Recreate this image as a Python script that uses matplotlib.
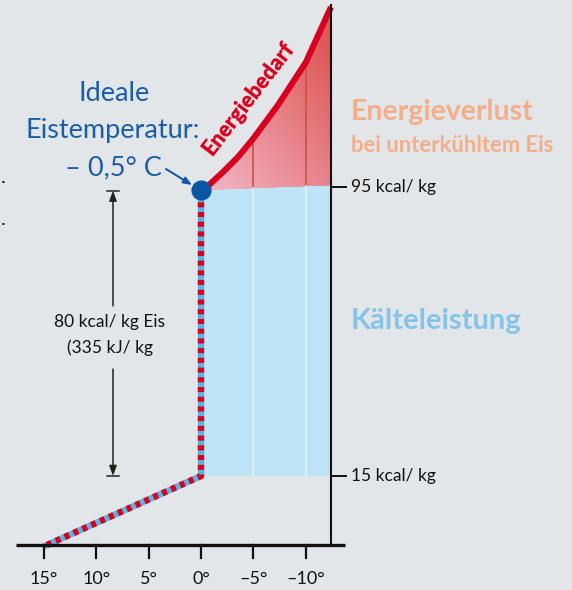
import numpy as np
import matplotlib
matplotlib.use("Agg")
import matplotlib.pyplot as plt
from matplotlib.patches import Polygon

# ---------------- data ----------------
temp_ticks = [15, 10, 5, 0, -5, -10]
temp_labels = ["15°", "10°", "5°", "0°", "–5°", "–10°"]
energy_ticks = [95, 15]
energy_labels = ["95 kcal/ kg", "15 kcal/ kg"]

# Energiebedarf curve (temperature °C, kcal/kg)
curve_t = [0, -0.67, -2.10, -3.53, -4.96, -7.35, -10.02, -12.4]
curve_k = [94.2, 95.3, 99.15, 103.3, 108.3, 117.7, 129.6, 144.8]

# lower boundary of the loss area / top of cooling area
base_t = [0, -12.4]
base_k = [94.2, 95.55]

# cooling path: water 15° -> 0°, freezing at 0°
path_t = [14.7, 0, 0]
path_k = [0, 15, 93]

ideal_t, ideal_k = 0, 94.2
latent_top, latent_bottom = 94.0, 15

# ---------------- scales ----------------
PX_PER_DEG = 10.48
X0 = 201.0
W, H = 572, 590


def fwd(k):
    k = np.asarray(k, float)
    return np.where(k <= 15, k * 4.6, 69 + (k - 15) * 3.6125)


def inv(v):
    v = np.asarray(v, float)
    return np.where(v <= 69, v / 4.6, 15 + (v - 69) / 3.6125)


def fp(x, y):
    return (x / W, 1 - y / H)


BG = "#e2e6e9"
RED = "#d7001e"
BLUE_LINE = "#5db3e0"
DARK_BLUE = "#0b57a4"
TXT_BLUE = "#1a5ea6"
FILL_BLUE = "#bfe4f6"

plt.rcParams["font.family"] = ["Lato", "DejaVu Sans"]

fig = plt.figure(figsize=(W / 100, H / 100), dpi=100)
fig.patch.set_facecolor(BG)
ax = fig.add_axes([0, 0, 1, 1])
ax.set_facecolor(BG)
ax.set_yscale("function", functions=(fwd, inv))
ax.set_xlim(X0 / PX_PER_DEG, (X0 - W) / PX_PER_DEG)
ax.set_ylim(float(inv(-45)), float(inv(545)))
ax.axis("off")

t_axis = -12.4

# cooling area (blue)
blue = Polygon([(base_t[0], base_k[0]), (base_t[1], base_k[1]),
                (base_t[1], 15), (base_t[0], 15)], closed=True,
               facecolor=FILL_BLUE, edgecolor="none", zorder=1)
ax.add_patch(blue)

# loss area (red gradient)
verts = list(zip(curve_t, curve_k)) + [(base_t[1], base_k[1]), (base_t[0], base_k[0])]
red_poly = Polygon(verts, closed=True, facecolor="none", edgecolor="none", zorder=1)
ax.add_patch(red_poly)
gt = np.linspace(0.5, -13, 100)
gk = np.linspace(90, 148, 100)
TT, KK = np.meshgrid(gt, gk)
tc = 0.5 * (TT[:-1, :-1] + TT[1:, 1:])
kc = 0.5 * (KK[:-1, :-1] + KK[1:, 1:])
f = np.clip(0.55 * (-tc / 12.4) + 0.6 * ((kc - 94) / 50), 0, 1)
c0 = np.array([243, 186, 202]) / 255
c1 = np.array([222, 90, 90]) / 255
cols = c0[None, None, :] * (1 - f[..., None]) + c1[None, None, :] * f[..., None]
mesh = ax.pcolormesh(TT, KK, f, shading="flat", zorder=1.2)
mesh.set_array(None)
mesh.set_facecolor(cols.reshape(-1, 3))
mesh.set_edgecolor("face")
mesh.set_clip_path(red_poly)

# grid lines at -5 and -10
for t in [-5, -10]:
    kb = np.interp(-t, [-x for x in base_t], base_k)
    kt = np.interp(-t, [-x for x in curve_t], curve_k)
    ax.plot([t, t], [kb, kt], color="#c4553f", lw=1.2, zorder=2)
    ax.plot([t, t], [15, kb], color="#e4f2f9", lw=1.2, zorder=2)

# Energiebedarf curve
ax.plot(curve_t, curve_k, color=RED, lw=4.4, solid_capstyle="butt",
        solid_joinstyle="round", zorder=4)

# cooling path (red/blue dashed)
lw = 4.6
ax.plot(path_t, path_k, color=BLUE_LINE, lw=lw, solid_joinstyle="miter", zorder=3)
ax.plot(path_t, path_k, color=RED, lw=lw, linestyle=(0, (3.6 / lw, 3.4 / lw)),
        dash_capstyle="butt", zorder=3.1)

# ideal point
ax.plot([ideal_t], [ideal_k], "o", color=DARK_BLUE, ms=13.5, zorder=5)

# axes
ax.plot([17.65, -13.7], [0, 0], color="#111", lw=2.4, solid_capstyle="butt", zorder=6)
ax.plot([t_axis, t_axis], [0, 145.5], color="#111", lw=1.5, zorder=6)
for t, lab in zip(temp_ticks, temp_labels):
    ax.plot([t, t], [0, -2.9], color="#111", lw=1.6, zorder=6)
    ax.text(t, -7.3, lab, ha="center", va="center", fontsize=13, color="#111")
for k, lab in zip(energy_ticks, energy_labels):
    ax.plot([t_axis, t_axis - 1.45], [k, k], color="#111", lw=1.4, zorder=6)
    ax.text(t_axis - 1.9, k, lab, ha="left", va="center", fontsize=12.5, color="#111")

# latent heat dimension arrow
xd = (X0 - 113) / PX_PER_DEG
gap_top, gap_bot = 62.1, 44.6
for kk in [latent_top, latent_bottom]:
    ax.plot([xd + 0.57, xd - 0.57], [kk, kk], color="#222", lw=1.1, zorder=6)
ax.annotate("", xy=(xd, latent_top), xytext=(xd, gap_top),
            arrowprops=dict(arrowstyle="-|>,head_length=0.6,head_width=0.22",
                            color="#222", lw=1.1, shrinkA=0, shrinkB=0))
ax.annotate("", xy=(xd, latent_bottom), xytext=(xd, gap_bot),
            arrowprops=dict(arrowstyle="-|>,head_length=0.6,head_width=0.22",
                            color="#222", lw=1.1, shrinkA=0, shrinkB=0))
fig.text(*fp(110, 322), "80 kcal/ kg Eis", ha="center", va="center", fontsize=12.5, color="#111")
fig.text(*fp(110, 348), "(335 kJ/ kg", ha="center", va="center", fontsize=12.5, color="#111")

# labels
fig.text(*fp(114, 94), "Ideale", ha="center", va="center", fontsize=19.5, color=TXT_BLUE)
fig.text(*fp(113, 131), "Eistemperatur:", ha="center", va="center", fontsize=19.5, color=TXT_BLUE)
fig.text(*fp(113, 168), "– 0,5° C", ha="center", va="center", fontsize=19.5, color=TXT_BLUE)
ax.annotate("", xy=(float((X0 - 192) / PX_PER_DEG), float(inv(545 - 185))),
            xytext=(float((X0 - 166) / PX_PER_DEG), float(inv(545 - 169))),
            arrowprops=dict(arrowstyle="-|>,head_length=0.5,head_width=0.2",
                            color=DARK_BLUE, lw=1.4, shrinkA=0, shrinkB=0), zorder=6)

fig.text(*fp(249, 98), "Energiebedarf", ha="center", va="center", rotation=52.5,
         fontsize=15.5, fontweight="heavy", color=RED, rotation_mode="anchor")
fig.text(*fp(351, 112), "Energieverlust", ha="left", va="center", fontsize=20.5,
         fontweight="bold", color="#f4ae8a")
fig.text(*fp(351, 146), "bei unterkühltem Eis", ha="left", va="center", fontsize=15.8,
         fontweight="bold", color="#f4ae8a")
fig.text(*fp(351, 321), "Kälteleistung", ha="left", va="center", fontsize=21,
         fontweight="bold", color="#86c3ea")

# small marks at left edge
for y in [181, 223]:
    fig.text(*fp(3, y), "▪", ha="center", va="center", fontsize=3, color="#111",
             family=["DejaVu Sans"])

fig.savefig("out.png", dpi=100, facecolor=BG)
